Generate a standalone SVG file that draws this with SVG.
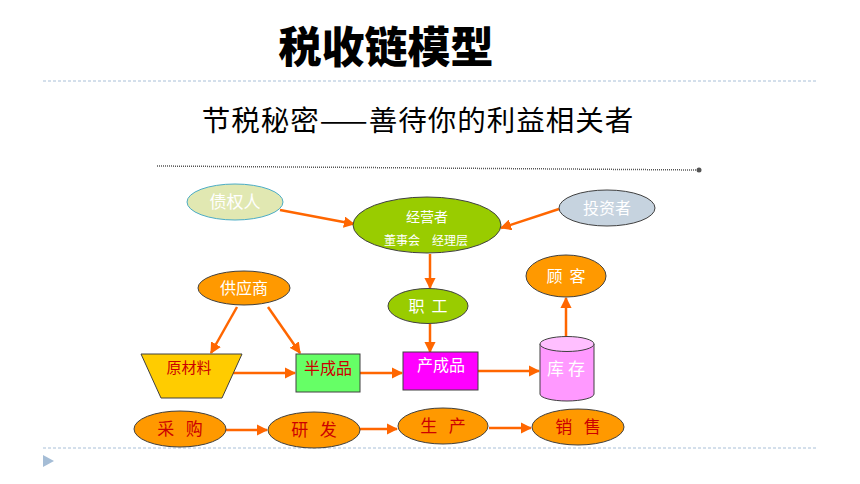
<svg xmlns="http://www.w3.org/2000/svg" width="860" height="484" viewBox="0 0 860 484">
<defs>
<marker id="ah" viewBox="0 0 10 10" refX="9" refY="5" markerWidth="4.5" markerHeight="4.5" orient="auto" markerUnits="strokeWidth">
<path d="M0,0 L10,5 L0,10 Z" fill="#ff6600"/>
</marker>
<style>
text{font-family:"Noto Sans CJK SC","Noto Sans",sans-serif;text-anchor:middle}
.w{fill:#ffffff;font-size:16px}
.r{fill:#cc0000;font-size:17px}
.nd{stroke:#404040;stroke-width:1}
.org{fill:#ff9900}
.grn{fill:#99cc00}
.sep{stroke:#a9c0d8;stroke-width:1;stroke-dasharray:3 2;fill:none}
#edges line{stroke:#ff6600;stroke-width:2.5;marker-end:url(#ah)}
</style>
</defs>
<rect width="860" height="484" fill="#ffffff"/>
<text x="386" y="63" style="font-size:43px;font-weight:900;fill:#000">税收链模型</text>
<line class="sep" x1="43" y1="81" x2="817" y2="81"/>
<text x="418" y="131" style="font-size:28.5px;letter-spacing:1px;fill:#000">节税秘密——善待你的利益相关者</text>
<line x1="157" y1="166" x2="697" y2="170" stroke="#555" stroke-width="1.5" stroke-dasharray="1 1"/>
<circle cx="699" cy="170" r="2.5" fill="#555"/>
<line class="sep" x1="43" y1="448" x2="817" y2="448"/>
<polygon points="43,455 54,461 43,467" fill="#a5bdd6"/>

<g id="edges">
<line x1="280" y1="210" x2="354" y2="224"/>
<line x1="559" y1="209" x2="501" y2="228"/>
<line x1="430" y1="254" x2="430" y2="288"/>
<line x1="430" y1="324" x2="430" y2="352"/>
<line x1="237" y1="307" x2="211" y2="353"/>
<line x1="268" y1="307" x2="300" y2="353"/>
<line x1="233" y1="373" x2="295" y2="373"/>
<line x1="360" y1="373" x2="402" y2="373"/>
<line x1="478" y1="371" x2="539" y2="371"/>
<line x1="566" y1="336" x2="566" y2="298"/>
<line x1="226" y1="430" x2="267" y2="430"/>
<line x1="360" y1="429" x2="397" y2="429"/>
<line x1="489" y1="428" x2="531" y2="428"/>
</g>

<g id="creditor">
<ellipse cx="235" cy="202" rx="48" ry="18" fill="#e1e8b2" stroke="#4bacc6" stroke-width="1"/>
<text class="w" x="235" y="208" style="font-size:17px">债权人</text>
</g>
<g id="manager">
<ellipse class="nd grn" cx="427" cy="225" rx="74" ry="28"/>
<text class="w" x="427" y="222" style="font-size:14px">经营者</text>
<text class="w" x="426" y="245" style="font-size:12px">董事会　经理层</text>
</g>
<g id="investor">
<ellipse class="nd" cx="607" cy="208" rx="48" ry="18" fill="#c6d3df"/>
<text class="w" x="607" y="214">投资者</text>
</g>
<g id="supplier">
<ellipse class="nd org" cx="244" cy="288" rx="46" ry="17"/>
<text class="w" x="244" y="294">供应商</text>
</g>
<g id="staff">
<ellipse class="nd grn" cx="428" cy="306" rx="40" ry="17.5"/>
<text class="w" x="428" y="312" xml:space="preserve">职  工</text>
</g>
<g id="customer">
<ellipse class="nd org" cx="566" cy="276" rx="40" ry="21"/>
<text class="w" x="566" y="282" xml:space="preserve">顾  客</text>
</g>
<g id="raw">
<polygon class="nd" points="141,354 242,354 222,398 161,398" fill="#ffcc00" stroke="#7f7f7f"/>
<text class="r" x="189" y="373" style="font-size:15px">原材料</text>
</g>
<g id="semi">
<rect class="nd" x="296" y="354" width="64" height="38" fill="#66ff66" stroke="#7f7f7f"/>
<text class="r" x="328" y="374" style="font-size:16px">半成品</text>
</g>
<g id="finished">
<rect class="nd" x="403" y="352" width="75" height="38" fill="#ff00ff"/>
<text class="w" x="441" y="371">产成品</text>
</g>
<g id="stock">
<path class="nd" d="M540,344 L540,394 A27,7 0 0 0 594,394 L594,344" fill="#ff99ff" stroke="#606060"/>
<ellipse class="nd" cx="567" cy="344" rx="27" ry="7.5" fill="#ffbfff" stroke="#606060"/>
<text class="w" x="566" y="375" style="font-size:17px" xml:space="preserve">库 存</text>
</g>
<g id="purchase">
<ellipse class="nd org" cx="180" cy="429" rx="46" ry="18"/>
<text class="r" x="180" y="435" xml:space="preserve">采   购</text>
</g>
<g id="rd">
<ellipse class="nd org" cx="314" cy="430" rx="46" ry="18"/>
<text class="r" x="314" y="436" xml:space="preserve">研   发</text>
</g>
<g id="production">
<ellipse class="nd org" cx="443" cy="426" rx="45" ry="18"/>
<text class="r" x="443" y="432" xml:space="preserve">生   产</text>
</g>
<g id="sales">
<ellipse class="nd org" cx="578" cy="427" rx="46" ry="18"/>
<text class="r" x="578" y="433" xml:space="preserve">销   售</text>
</g>
</svg>
